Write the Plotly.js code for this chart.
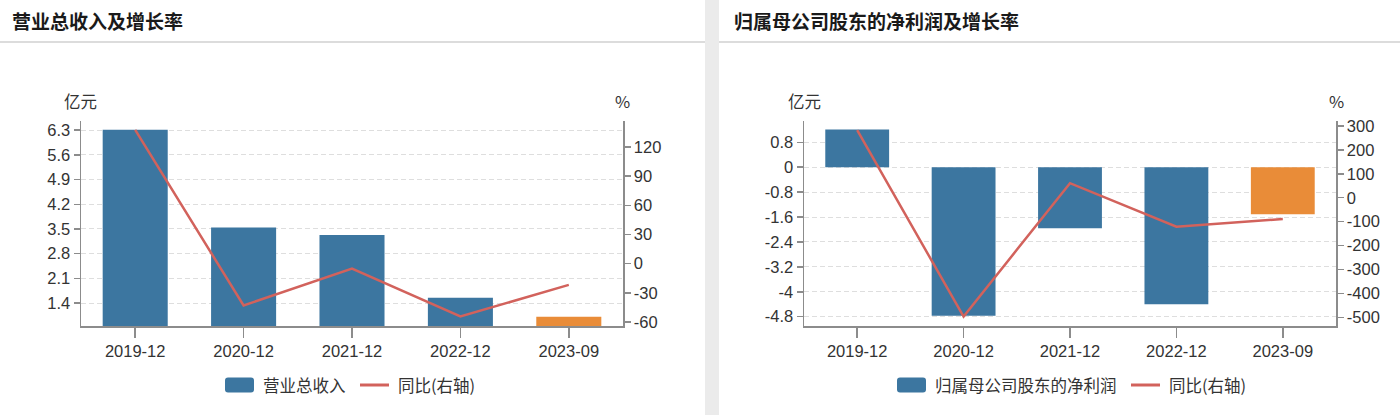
<!DOCTYPE html>
<html>
<head>
<meta charset="utf-8">
<script src="https://cdn.plot.ly/plotly-3.0.1.min.js"></script>
<style>
  html, body { margin: 0; padding: 0; background: #fff; }
  #chart { width: 1400px; height: 415px; }
</style>
</head>
<body>
<div id="chart"></div>
<script>
// ---- data ----
const categories = ['2019-12', '2020-12', '2021-12', '2022-12', '2023-09'];
const revenue = [6.31, 3.54, 3.33, 1.55, 1.01];          // 亿元
const revenueYoY = [137.5, -43, -5, -54.3, -21.8];        // %
const netProfit = [1.21, -4.77, -1.96, -4.40, -1.51];     // 亿元
const netProfitYoY = [283, -497, 61, -121, -89];          // %

const revTickVals = [1.4, 2.1, 2.8, 3.5, 4.2, 4.9, 5.6, 6.3];
const revTickText = ['1.4', '2.1', '2.8', '3.5', '4.2', '4.9', '5.6', '6.3'];
const revYoYTickVals = [-60, -30, 0, 30, 60, 90, 120];
const revYoYTickText = ['-60', '-30', '0', '30', '60', '90', '120'];
const npTickVals = [-4.8, -4, -3.2, -2.4, -1.6, -0.8, 0, 0.8];
const npTickText = ['-4.8', '-4', '-3.2', '-2.4', '-1.6', '-0.8', '0', '0.8'];
const npYoYTickVals = [-500, -400, -300, -200, -100, 0, 100, 200, 300];
const npYoYTickText = ['-500', '-400', '-300', '-200', '-100', '0', '100', '200', '300'];

const titles = ['营业总收入及增长率', '归属母公司股东的净利润及增长率'];
const barNames = ['营业总收入', '归属母公司股东的净利润'];
const lineName = '同比(右轴)';
const unitLeft = '亿元';
const unitRight = '%';
const forecastCategory = '2023-09';

// ---- style ----
const W = 1400, H = 415;
const BLUE = '#3c76a0', ORANGE = '#e98c38', RED = '#d2625c';
const AXIS = '#8c8c8c', GRID = '#dedede', TXT = '#333333';
const NUMFONT = 'Liberation Sans, Arial, sans-serif';
const CJK = 'Noto Sans CJK SC, sans-serif';
const px = x => x / W;
const py = y => 1 - y / H;

const barColors = categories.map(c => c === forecastCategory ? ORANGE : BLUE);

const yDomain = [py(326), py(121)];

const traces = [
  { type: 'bar', x: categories, y: revenue, width: 0.6, marker: { color: barColors },
    xaxis: 'x', yaxis: 'y', showlegend: false, hoverinfo: 'none' },
  { type: 'scatter', mode: 'lines', x: categories, y: revenueYoY,
    line: { color: RED, width: 2.5 }, xaxis: 'x', yaxis: 'y2', showlegend: false, hoverinfo: 'none', cliponaxis: true },
  { type: 'bar', x: categories, y: netProfit, width: 0.6, marker: { color: barColors },
    xaxis: 'x2', yaxis: 'y3', showlegend: false, hoverinfo: 'none' },
  { type: 'scatter', mode: 'lines', x: categories, y: netProfitYoY,
    line: { color: RED, width: 2.5 }, xaxis: 'x2', yaxis: 'y4', showlegend: false, hoverinfo: 'none' }
];

const tickFont = { family: NUMFONT, size: 16.5, color: TXT };

function xAxis(domain, anchor) {
  return {
    domain: domain, anchor: anchor, type: 'category', range: [-0.5, 4.5],
    showline: true, linecolor: AXIS, linewidth: 1.5,
    ticks: 'outside', ticklen: 10, tickcolor: AXIS, tickwidth: 1.5,
    showgrid: false, zeroline: false, tickfont: tickFont, fixedrange: true
  };
}
function yLeft(anchor, range, vals, text) {
  return {
    domain: yDomain, anchor: anchor, range: range, tickmode: 'array',
    tickvals: vals, ticktext: text,
    showline: true, linecolor: AXIS, linewidth: 1.5,
    ticks: 'outside', ticklen: 6, tickcolor: AXIS, tickwidth: 1.5,
    showgrid: true, gridcolor: GRID, gridwidth: 1, griddash: '5px,3px',
    zeroline: false, tickfont: tickFont, fixedrange: true
  };
}
function yRight(anchor, overlay, range, vals, text) {
  return {
    domain: yDomain, anchor: anchor, overlaying: overlay, side: 'right', range: range,
    tickmode: 'array', tickvals: vals, ticktext: text,
    showline: true, linecolor: AXIS, linewidth: 1.5,
    ticks: 'outside', ticklen: 6, tickcolor: AXIS, tickwidth: 1.5,
    showgrid: false, zeroline: false, tickfont: tickFont, fixedrange: true
  };
}

const shapes = [
  // separator between panels
  { type: 'rect', xref: 'paper', yref: 'paper', x0: px(705), x1: px(719), y0: 0, y1: 1,
    fillcolor: '#ebebeb', line: { width: 0 }, layer: 'below' },
  // title underlines
  { type: 'rect', xref: 'paper', yref: 'paper', x0: 0, x1: px(705), y0: py(43), y1: py(41),
    fillcolor: '#dcdcdc', line: { width: 0 }, layer: 'below' },
  { type: 'rect', xref: 'paper', yref: 'paper', x0: px(719), x1: 1, y0: py(43), y1: py(41),
    fillcolor: '#dcdcdc', line: { width: 0 }, layer: 'below' }
];

function roundedBox(x0, y0, w, h, r) {
  const p = (x, y) => px(x) + ',' + py(y);
  return 'M' + p(x0 + r, y0) + ' L' + p(x0 + w - r, y0) + ' Q' + p(x0 + w, y0) + ' ' + p(x0 + w, y0 + r) +
    ' L' + p(x0 + w, y0 + h - r) + ' Q' + p(x0 + w, y0 + h) + ' ' + p(x0 + w - r, y0 + h) +
    ' L' + p(x0 + r, y0 + h) + ' Q' + p(x0, y0 + h) + ' ' + p(x0, y0 + h - r) +
    ' L' + p(x0, y0 + r) + ' Q' + p(x0, y0) + ' ' + p(x0 + r, y0) + ' Z';
}

const legendY = 385;
const legends = [
  { box: 225, boxText: 261, line: 360, lineText: 396 },
  { box: 897, boxText: 933, line: 1131, lineText: 1167 }
];
const annotations = [];
legends.forEach((lg, i) => {
  shapes.push({ type: 'path', xref: 'paper', yref: 'paper', path: roundedBox(lg.box, legendY - 7.5, 29, 15, 3),
    fillcolor: BLUE, line: { width: 0 } });
  shapes.push({ type: 'line', xref: 'paper', yref: 'paper', x0: px(lg.line), x1: px(lg.line + 29),
    y0: py(legendY), y1: py(legendY), line: { color: RED, width: 3 } });
  annotations.push({ xref: 'paper', yref: 'paper', x: px(lg.boxText), y: py(legendY), xanchor: 'left', yanchor: 'middle',
    text: barNames[i], showarrow: false, font: { family: CJK, size: 16.5, color: TXT } });
  annotations.push({ xref: 'paper', yref: 'paper', x: px(lg.lineText), y: py(legendY), xanchor: 'left', yanchor: 'middle',
    text: lineName, showarrow: false, font: { family: CJK, size: 16.5, color: TXT } });
});

// panel titles
annotations.push({ xref: 'paper', yref: 'paper', x: px(10), y: py(20), xanchor: 'left', yanchor: 'middle',
  text: titles[0], showarrow: false, font: { family: CJK, size: 19, color: '#1a1a1a', weight: 700 } });
annotations.push({ xref: 'paper', yref: 'paper', x: px(732), y: py(20), xanchor: 'left', yanchor: 'middle',
  text: titles[1], showarrow: false, font: { family: CJK, size: 19, color: '#1a1a1a', weight: 700 } });

// unit labels
[[80, unitLeft], [622, unitRight], [804, unitLeft], [1336, unitRight]].forEach(([x, t]) => {
  annotations.push({ xref: 'paper', yref: 'paper', x: px(x), y: py(101), xanchor: 'center', yanchor: 'middle',
    text: t, showarrow: false, font: { family: CJK, size: 16.5, color: TXT } });
});

const layout = {
  width: W, height: H, autosize: false,
  margin: { l: 0, r: 0, t: 0, b: 0, pad: 0 },
  paper_bgcolor: '#ffffff', plot_bgcolor: 'rgba(0,0,0,0)',
  showlegend: false, bargap: 0.4,
  xaxis: xAxis([px(81), px(623)], 'y'),
  yaxis: yLeft('x', [0.75, 6.56], revTickVals, revTickText),
  yaxis2: yRight('x', 'y', [-64.1, 146.7], revYoYTickVals, revYoYTickText),
  xaxis2: xAxis([px(804), px(1336)], 'y3'),
  yaxis3: yLeft('x2', [-5.1, 1.484], npTickVals, npTickText),
  yaxis4: yRight('x2', 'y3', [-536.4, 320.9], npYoYTickVals, npYoYTickText),
  shapes: shapes,
  annotations: annotations
};

Plotly.newPlot('chart', traces, layout, { staticPlot: true, displayModeBar: false });
</script>
</body>
</html>
